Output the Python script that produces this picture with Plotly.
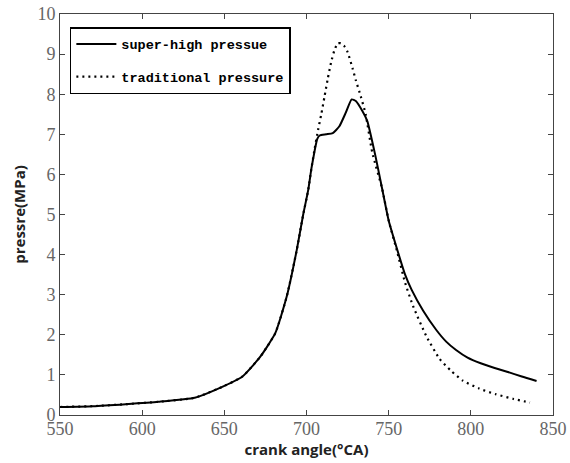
import plotly.graph_objects as go

# crank angle (°CA) and cylinder pressure (MPa)
angle_super = [550, 570, 590, 610, 632, 647, 661, 672, 681, 688, 694, 698, 701,
               703, 705, 706.5, 708, 712, 716, 720, 724, 727.5, 730, 734, 737, 742, 746, 750,
               755, 760, 764, 771, 779, 785, 791, 798, 806, 814, 822, 831, 840]
press_super = [0.2, 0.22, 0.27, 0.33, 0.43, 0.67, 0.96, 1.46, 2.04, 2.96, 4.1, 5.0, 5.6,
               6.15, 6.6, 6.88, 6.97, 7.0, 7.03, 7.2, 7.55, 7.87, 7.83, 7.58, 7.33, 6.45, 5.65, 4.85,
               4.15, 3.5, 3.12, 2.6, 2.12, 1.83, 1.62, 1.43, 1.29, 1.18, 1.08, 0.96, 0.85]

angle_trad = [550, 570, 590, 610, 632, 647, 661, 672, 681, 688, 694, 698, 701,
              703, 705, 707, 709, 711, 713, 715, 717, 719, 721, 723, 725, 728, 730, 733,
              736, 740, 746, 750, 755, 760, 765, 773, 781, 788, 795, 805, 815, 826, 836]
press_trad = [0.2, 0.22, 0.27, 0.33, 0.43, 0.67, 0.96, 1.46, 2.04, 2.96, 4.1, 5.0, 5.6,
              6.15, 6.65, 7.1, 7.5, 7.95, 8.4, 8.8, 9.1, 9.27, 9.27, 9.2, 9.05, 8.65, 8.35, 7.95,
              7.5, 6.55, 5.65, 4.85, 4.1, 3.3, 2.7, 1.96, 1.4, 1.1, 0.86, 0.66, 0.52, 0.4, 0.31]

x_ticks = [550, 600, 650, 700, 750, 800, 850]
y_ticks = list(range(0, 11))

tick_font = dict(family="Liberation Serif", size=18, color="#666")
title_font = dict(family="Open Sans", size=15, color="#222", weight="bold")

fig = go.Figure()
fig.add_trace(go.Scatter(x=angle_super, y=press_super, mode="lines",
                         name="super-high pressue", legendgroup="a",
                         line=dict(color="black", width=2, shape="spline", smoothing=0.5)))
fig.add_trace(go.Scatter(x=angle_trad, y=press_trad, mode="lines",
                         name="traditional pressure", legendgroup="b",
                         line=dict(color="black", width=2.2, dash="2px,4px", shape="spline", smoothing=0.5)))

fig.update_layout(
    width=570, height=463,
    margin=dict(l=60, r=17, t=14, b=48),
    paper_bgcolor="white", plot_bgcolor="white",
    showlegend=True,
    legend=dict(x=0.02, y=0.967, xanchor="left", yanchor="top",
                bgcolor="white", bordercolor="black", borderwidth=1.5,
                font=dict(family="Liberation Mono", size=13.5, color="black", weight="bold"),
                itemwidth=40, tracegroupgap=12),
)
fig.update_xaxes(range=[550, 850], tickvals=x_ticks, tickfont=tick_font, automargin=False,
                 showgrid=False, zeroline=False, showline=True, linecolor="#444", linewidth=1,
                 mirror="ticks", ticks="inside", ticklen=5, tickcolor="#444",
                 ticklabelstandoff=-3,
                 title=dict(text="crank angle(°CA)", standoff=0, font=title_font))
fig.update_yaxes(range=[0, 10], tickvals=y_ticks, tickfont=tick_font, automargin=False,
                 showgrid=False, zeroline=False, showline=True, linecolor="#444", linewidth=1,
                 mirror="ticks", ticks="inside", ticklen=5, tickcolor="#444",
                 ticklabelstandoff=0,
                 title=dict(text="pressre(MPa)", standoff=8, font=title_font))

# drop the default body margin so the figure sits at the window's corner
fig.write_html("out.html", config={"displayModeBar": False},
               post_script="document.body.style.margin='0';")
